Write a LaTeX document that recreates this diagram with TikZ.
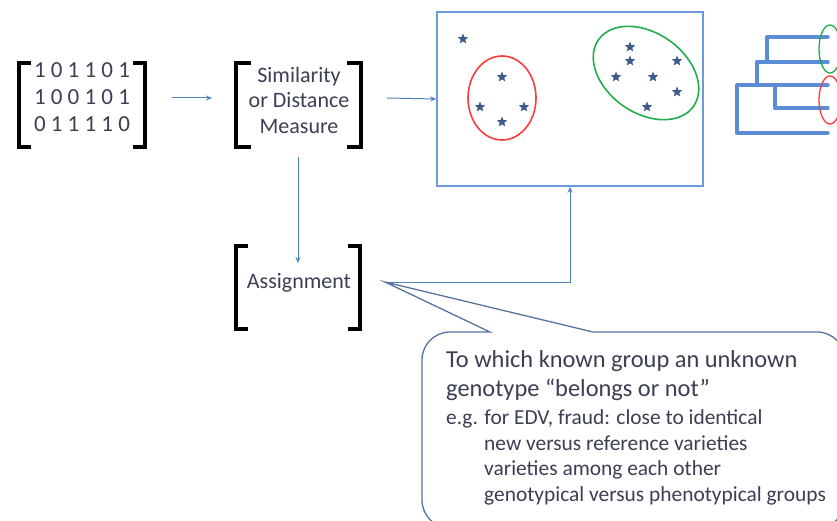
\documentclass[tikz,border=0pt]{standalone}
\usepackage{fontspec}
\setmainfont{Carlito}
\usetikzlibrary{shapes.geometric,arrows.meta}
\definecolor{flow}{HTML}{4F81BD}
\definecolor{frameblue}{HTML}{6C9BDA}
\definecolor{treeblue}{HTML}{5B8DD6}
\definecolor{starblue}{HTML}{3E5C8A}
\definecolor{inktext}{HTML}{3B3F52}
\definecolor{calloutline}{HTML}{56749F}
\definecolor{clusterred}{HTML}{FF3A3A}
\definecolor{clustergreen}{HTML}{20AE4C}
\tikzset{
  bracket/.style={line width=4.6pt, line cap=butt, line join=miter, black},
  flowarrow/.style={draw=flow, line width=1pt, -{Stealth[length=6pt,width=5pt]}},
  label/.style={text=inktext, inner sep=0pt, font=\fontsize{22}{26}\selectfont},
  bigline/.style={label, anchor=base west, font=\fontsize{24.4}{28}\selectfont},
  smallline/.style={label, anchor=base west, font=\fontsize{21.4}{25}\selectfont},
  datapoint/.style={star, star points=5, star point ratio=2.3, fill=starblue,
    draw=none, minimum size=11pt, inner sep=0pt},
  tree/.style={draw=treeblue, line width=3.4pt, line cap=round, line join=round},
}
\begin{document}
\begin{tikzpicture}[x=1pt,y=-1pt]
\useasboundingbox (0,0) rectangle (837,521);

% --- binary marker matrix ---
\node[label, align=center, font=\fontsize{23}{27}\selectfont] (mat) at (82,97)
  {1 0 1 1 0 1\\1 0 0 1 0 1\\0 1 1 1 1 0};
\draw[bracket] (31,63) -- (19,63) -- (19,147) -- (31,147);
\draw[bracket] (133,63) -- (145,63) -- (145,147) -- (133,147);

% --- similarity measure ---
\node[label, align=center, font=\fontsize{22}{25.5}\selectfont] (sim) at (299,100)
  {Similarity\\or Distance\\Measure};
\draw[bracket] (251,63) -- (236,63) -- (236,147) -- (251,147);
\draw[bracket] (347,63) -- (361,63) -- (361,147) -- (347,147);

% --- assignment ---
\node[label] (asg) at (299,283) {Assignment};
\draw[bracket] (248,246) -- (236,246) -- (236,329) -- (248,329);
\draw[bracket] (348,246) -- (360,246) -- (360,329) -- (348,329);

% --- cluster plot ---
\node[draw=frameblue, line width=1.7pt, minimum width=266pt, minimum height=174pt,
  inner sep=0pt] (plot) at (570,99) {};
\draw[clusterred, line width=1.6pt] (502,98) ellipse [x radius=34, y radius=42];
\draw[clustergreen, line width=1.6pt, rotate around={-35:(646,73)}]
  (646,73) ellipse [x radius=58, y radius=40];
\foreach \n/\px/\py in {a/463/39, b/502/77, c/480/107, d/524/107, e/502/122,
    f/630/47, g/630/61, h/677/61, i/616/77, j/653/77, k/677/92, l/647/107}
  \node[datapoint] (pt-\n) at (\px,\py) {};

% --- dendrogram ---
\draw[tree] (828,37) -- (767,37) -- (767,62);
\draw[tree] (828,62) -- (757,62) -- (757,85);
\draw[tree] (828,85) -- (737,85) -- (737,133) -- (828,133);
\draw[tree] (775,85) -- (775,108) -- (828,108);
\draw[clustergreen, line width=1.3pt] (830,49) ellipse [x radius=11, y radius=24];
\draw[clusterred, line width=1.3pt] (830,100) ellipse [x radius=11, y radius=24];

% --- flow connectors ---
\coordinate (m-out) at (172,98);
\coordinate (s-in) at (212,98);
\coordinate (s-out) at (387,98);
\coordinate (s-down) at (298,157);
\coordinate (a-in) at (298,263);
\coordinate (a-out) at (385,282);
\draw[flowarrow] (m-out) -- (s-in);
\draw[flowarrow] (s-out) -- (plot.west);
\draw[flowarrow] (s-down) -- (a-in);
\draw[flowarrow] (a-out) -| (plot.south);

% --- callout ---
\coordinate (tip) at (385,282);
\draw[calloutline, line width=1.3pt, fill=white]
  (490,332) [rounded corners=28pt] -- (422,332) -- (422,528) -- (845,528)
  -- (845,332) [sharp corners] -- (593,332) -- (tip) -- cycle;
\node[bigline] (c1) at (446,367) {To which known group an unknown};
\node[bigline] (c2) at (446,396) {genotype “belongs or not”};
\node[smallline] (c3) at (446,424) {e.g. for EDV, fraud: close to identical};
\node[smallline] (c4) at (484,450) {new versus reference varieties};
\node[smallline] (c5) at (484,475) {varieties among each other};
\node[smallline] (c6) at (484,501) {genotypical versus phenotypical groups};
\end{tikzpicture}
\end{document}
